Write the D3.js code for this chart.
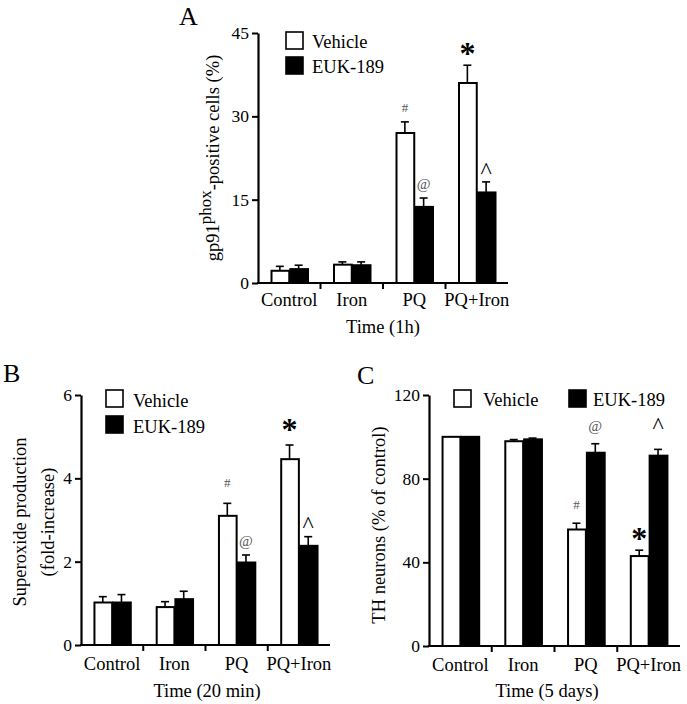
<!DOCTYPE html>
<html>
<head>
<meta charset="utf-8">
<script src="https://cdn.jsdelivr.net/npm/d3@7/dist/d3.min.js"></script>
<style>
  html, body { margin: 0; padding: 0; background: #fff; }
  svg { display: block; }
  text { font-family: "Liberation Serif", "Times New Roman", serif; fill: #000; }
</style>
</head>
<body>
<svg id="chart" width="687" height="704"></svg>
<script>
// ---------------- DATA ----------------
const categories = ["Control", "Iron", "PQ", "PQ+Iron"];
const seriesNames = ["Vehicle", "EUK-189"];

// Panel A: gp91phox-positive cells (%), Time (1h)
const vehicleA    = [2.2, 3.3, 27.0, 36.0];
const vehicleErrA = [0.8, 0.5, 2.0, 3.2];
const eukA        = [2.5, 3.2, 13.7, 16.3];
const eukErrA     = [0.7, 0.6, 1.6, 1.9];
const ticksA      = [0, 15, 30, 45];
const vehicleSigA = ["", "", "#", "*"];
const eukSigA     = ["", "", "@", "^"];

// Panel B: Superoxide production (fold-increase), Time (20 min)
const vehicleB    = [1.02, 0.91, 3.10, 4.46];
const vehicleErrB = [0.14, 0.13, 0.30, 0.34];
const eukB        = [1.02, 1.10, 1.98, 2.38];
const eukErrB     = [0.19, 0.19, 0.18, 0.22];
const ticksB      = [0, 2, 4, 6];
const vehicleSigB = ["", "", "#", "*"];
const eukSigB     = ["", "", "@", "^"];

// Panel C: TH neurons (% of control), Time (5 days)
const vehicleC    = [100, 97.9, 55.7, 43.0];
const vehicleErrC = [0, 0.8, 3.0, 2.8];
const eukC        = [100, 98.8, 92.4, 91.0];
const eukErrC     = [0, 0.6, 4.3, 3.0];
const ticksC      = [0, 40, 80, 120];
const vehicleSigC = ["", "", "#", "*"];
const eukSigC     = ["", "", "@", "^"];

// ---------------- DRAWING ----------------
const svg = d3.select("#chart");

// size: font size; em: glyph vertical centre above baseline (in em); off: centre distance above error cap
const sigStyle = {
  "#": { size: 13, weight: "normal", em: 0.34, off: 14, color: "#555" },
  "@": { size: 15, weight: "normal", em: 0.33, off: 14, color: "#555" },
  "*": { size: 32, weight: "bold",   em: 0.48, off: 17, color: "#000" },
  "^": { size: 24, weight: "normal", em: 0.49, off: 16, color: "#000" }
};

function drawPanel(p) {
  const g = svg.append("g");
  const x = d3.scaleBand().domain(categories).range([p.x0, p.x1]).paddingInner(0).paddingOuter(0);
  const y = d3.scaleLinear().domain([p.ticks[0], p.ticks[p.ticks.length - 1]]).range([p.yBottom, p.yTop]);
  const bw = x.step() * 0.3;

  const series = [
    { vals: p.veh, errs: p.vehErr, sig: p.vehSig, fill: "#fff", dx: -bw, name: 0 },
    { vals: p.euk, errs: p.eukErr, sig: p.eukSig, fill: "#000", dx: 0, name: 1 }
  ];
  series.forEach(s => {
    categories.forEach((c, i) => {
      const cx = x(c) + x.bandwidth() / 2 + s.dx;
      const mid = cx + bw / 2;
      const v = s.vals[i], e = s.errs[i];
      if (e > 0) {
        g.append("line").attr("x1", mid).attr("x2", mid)
          .attr("y1", y(v)).attr("y2", y(v + e)).attr("stroke", "#000").attr("stroke-width", 1.6);
        g.append("line").attr("x1", mid - 4).attr("x2", mid + 4)
          .attr("y1", y(v + e)).attr("y2", y(v + e)).attr("stroke", "#000").attr("stroke-width", 1.6);
      }
      g.append("rect").attr("x", cx + 1).attr("y", y(v))
        .attr("width", bw - 1).attr("height", y(0) - y(v))
        .attr("fill", s.fill).attr("stroke", "#000").attr("stroke-width", 2);
      const sg = s.sig[i];
      if (sg) {
        const st = sigStyle[sg];
        const key = s.name + sg;
        const off = (p.sigOff && p.sigOff[key] !== undefined) ? p.sigOff[key] : st.off;
        g.append("text").attr("x", mid)
          .attr("y", y(v + e) - off + st.em * st.size)
          .attr("text-anchor", "middle").attr("font-size", st.size).attr("font-weight", st.weight)
          .style("fill", st.color).text(sg);
      }
    });
  });

  // y axis
  const yAx = g.append("g").attr("transform", `translate(${p.x0},0)`)
    .call(d3.axisLeft(y).tickValues(p.ticks).tickFormat(d3.format("d")).tickSize(6).tickSizeOuter(0).tickPadding(3));
  yAx.select(".domain").attr("stroke-width", 2.2);
  yAx.selectAll(".tick line").attr("stroke-width", 2);
  yAx.selectAll(".tick text").attr("font-size", 17.5).style("font-family", "Liberation Serif, serif");

  // x axis
  const xAx = g.append("g").attr("transform", `translate(0,${p.yBottom})`)
    .call(d3.axisBottom(x).tickSize(0).tickPadding(p.xLabelPad));
  xAx.select(".domain").attr("d", `M${p.x0 - 1},0H${p.x1}`).attr("stroke-width", 2.2);
  xAx.selectAll(".tick text").attr("font-size", 18.5).style("font-family", "Liberation Serif, serif");
  categories.slice(1).forEach(c => {
    g.append("line").attr("x1", x(c)).attr("x2", x(c)).attr("y1", p.yBottom).attr("y2", p.yBottom + 6)
      .attr("stroke", "#000").attr("stroke-width", 2);
  });

  g.append("text").attr("x", p.xTitleX).attr("y", p.xTitleY).attr("text-anchor", "middle")
    .attr("font-size", 18.5).text(p.xTitle);

  p.yTitle(g);

  g.append("text").attr("x", p.letterX).attr("y", p.letterY).attr("font-size", 26).text(p.letter);

  p.legend.forEach((L, k) => {
    g.append("rect").attr("x", L.bx).attr("y", L.by).attr("width", 17).attr("height", 17)
      .attr("fill", k === 0 ? "#fff" : "#000").attr("stroke", "#000").attr("stroke-width", 1.6);
    g.append("text").attr("x", L.tx).attr("y", L.ty).attr("font-size", 18.5).text(seriesNames[k]);
  });
}

// Panel A
drawPanel({
  letter: "A", letterX: 179, letterY: 25,
  x0: 258, x1: 508, yTop: 33, yBottom: 283, ticks: ticksA,
  veh: vehicleA, vehErr: vehicleErrA, euk: eukA, eukErr: eukErrA,
  vehSig: vehicleSigA, eukSig: eukSigA,
  xLabelPad: 10, xTitle: "Time (1h)", xTitleX: 383, xTitleY: 333,
  legend: [{ bx: 286, by: 32, tx: 312, ty: 48 }, { bx: 286, by: 57, tx: 312, ty: 73 }],
  yTitle: g => {
    const t = g.append("text").attr("transform", "translate(219,158) rotate(-90)")
      .attr("text-anchor", "middle").attr("font-size", 18.5);
    t.append("tspan").text("gp91");
    t.append("tspan").attr("dy", -8).attr("font-size", 17).text("phox");
    t.append("tspan").attr("dy", 8).text("-positive cells (%)");
  }
});

// Panel B
drawPanel({
  letter: "B", letterX: 3, letterY: 382,
  x0: 81, x1: 330, yTop: 395, yBottom: 645, ticks: ticksB,
  veh: vehicleB, vehErr: vehicleErrB, euk: eukB, eukErr: eukErrB,
  vehSig: vehicleSigB, eukSig: eukSigB,
  xLabelPad: 12, xTitle: "Time (20 min)", xTitleX: 207, xTitleY: 697,
  sigOff: { "0#": 21, "0*": 20 },
  legend: [{ bx: 106, by: 390, tx: 133, ty: 407 }, { bx: 106, by: 416, tx: 133, ty: 433 }],
  yTitle: g => {
    g.append("text").attr("transform", "translate(26,522) rotate(-90)")
      .attr("text-anchor", "middle").attr("font-size", 18.5).text("Superoxide production");
    g.append("text").attr("transform", "translate(54,522) rotate(-90)")
      .attr("text-anchor", "middle").attr("font-size", 18.5).text("(fold-increase)");
  }
});

// Panel C
drawPanel({
  letter: "C", letterX: 357, letterY: 384,
  x0: 429, x1: 680, yTop: 395, yBottom: 646, ticks: ticksC,
  veh: vehicleC, vehErr: vehicleErrC, euk: eukC, eukErr: eukErrC,
  vehSig: vehicleSigC, eukSig: eukSigC,
  xLabelPad: 12, xTitle: "Time (5 days)", xTitleX: 547, xTitleY: 697,
  sigOff: { "1^": 28, "1@": 18, "0#": 19 },
  legend: [{ bx: 454, by: 390, tx: 483, ty: 406 }, { bx: 569, by: 390, tx: 593, ty: 406 }],
  yTitle: g => {
    g.append("text").attr("transform", "translate(385,525) rotate(-90)")
      .attr("text-anchor", "middle").attr("font-size", 18.5).text("TH neurons (% of control)");
  }
});
</script>
</body>
</html>
